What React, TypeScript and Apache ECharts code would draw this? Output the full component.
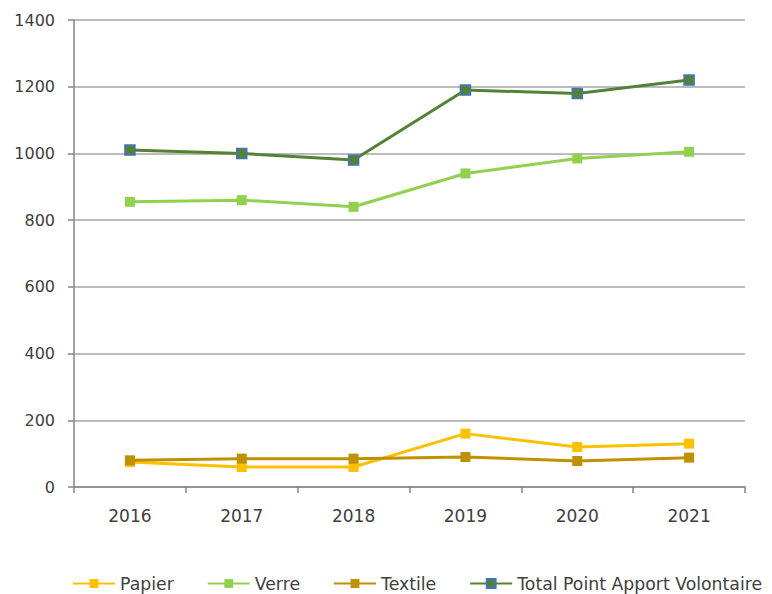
import React, { useEffect, useRef } from "react";
import * as echarts from "echarts";

const years = ["2016", "2017", "2018", "2019", "2020", "2021"];
const papier = [75, 60, 60, 160, 120, 130];
const verre = [855, 860, 840, 940, 985, 1005];
const textile = [80, 85, 85, 90, 78, 88];
const total = [1010, 1000, 980, 1190, 1180, 1220];

const FONT = "DejaVu Sans";
const TXT = "#404040";

export default function App() {
  const ref = useRef<HTMLDivElement>(null);
  useEffect(() => {
    const chart = echarts.init(ref.current!, null, { renderer: "svg" });
    const mk = (name: string, data: number[], color: string, border?: string) => ({
      name,
      type: "line",
      data,
      symbol: "rect",
      symbolSize: 10,
      lineStyle: { color, width: 3 },
      itemStyle: border
        ? { color, borderColor: border, borderWidth: 1.5 }
        : { color, borderWidth: 0 },
    });
    chart.setOption({
      animation: false,
      backgroundColor: "#ffffff",
      textStyle: { fontFamily: FONT, color: TXT },
      grid: { left: 74, right: 27, top: 20, bottom: 107, containLabel: false },
      legend: {
        left: 72,
        top: 575,
        width: 720,
        padding: 0,
        itemWidth: 42,
        itemHeight: 11,
        itemGap: 33,
        textStyle: { fontFamily: FONT, fontSize: 17.3, color: TXT },
        data: ["Papier", "Verre", "Textile", "Total Point Apport Volontaire"],
      },
      xAxis: {
        type: "category",
        data: years,
        boundaryGap: true,
        axisLine: { show: true, lineStyle: { color: "#868686", width: 1.5 } },
        axisTick: { show: true, length: 6, lineStyle: { color: "#868686", width: 1.5 } },
        axisLabel: { margin: 20, fontSize: 17, color: TXT, fontFamily: FONT },
      },
      yAxis: {
        type: "value",
        min: 0,
        max: 1400,
        interval: 200,
        axisLine: { show: true, lineStyle: { color: "#868686", width: 1.5 } },
        axisTick: { show: true, length: 6, lineStyle: { color: "#868686", width: 1.5 } },
        axisLabel: {
          margin: 19,
          fontSize: 16,
          color: TXT,
          fontFamily: FONT,
          formatter: (v: number) => String(v),
        },
        splitLine: { show: true, lineStyle: { color: "#a6a6a6", width: 1.5 } },
      },
      series: [
        mk("Papier", papier, "#FFC000"),
        mk("Verre", verre, "#92D050"),
        mk("Textile", textile, "#BF9000"),
        mk("Total Point Apport Volontaire", total, "#548235", "#4472C4"),
      ],
    });
    return () => chart.dispose();
  }, []);
  return (
    <div
      ref={ref}
      style={{ position: "fixed", left: 0, top: 0, width: 772, height: 594, background: "#fff" }}
    />
  );
}
